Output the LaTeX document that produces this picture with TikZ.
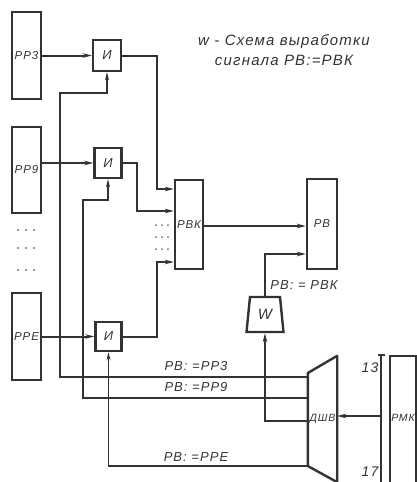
\documentclass[tikz,border=0pt]{standalone}
\usepackage{fontspec}
\setmainfont{Liberation Sans}[LetterSpace=8]
\usetikzlibrary{shapes.geometric,arrows.meta,calc}
\definecolor{ink}{gray}{0.2}
\begin{document}
\begin{tikzpicture}[x=1pt,y=-1pt,
  box/.style={draw=ink, line width=2.4pt, inner sep=0pt, font=\itshape\fontsize{11.5}{11.5}\selectfont, text=ink},
  con/.style={draw=ink, line width=2pt},
  thinl/.style={draw=ink, line width=1.5pt},
  arr/.style={-{Stealth[length=9pt,width=4.5pt]}},
  sarr/.style={-{Stealth[length=8pt,width=4pt]}},
  lab/.style={font=\itshape\fontsize{13}{13}\selectfont, text=ink, inner sep=0pt},
]
\useasboundingbox (0,0) rectangle (417,482);
\clip (0,0) rectangle (417,482);

% registers
\node[box, minimum width=29pt, minimum height=87pt] (pp3) at (26.5,55.5) {РР3};
\node[box, minimum width=29pt, minimum height=86pt] (pp9) at (26.5,170) {РР9};
\node[box, minimum width=29pt, minimum height=87pt] (ppe) at (26.5,336.5) {РРЕ};
% AND gates
\node[box, minimum width=28pt, minimum height=31pt, font=\itshape\fontsize{13}{13}\selectfont] (i1) at (107,55.5) {И};
\node[box, minimum width=27pt, minimum height=30pt, font=\itshape\fontsize{13}{13}\selectfont] (i2) at (108,163) {И};
\node[box, minimum width=26pt, minimum height=29pt, font=\itshape\fontsize{13}{13}\selectfont] (i3) at (108.5,336.5) {И};
% РВК, РВ
\node[box, minimum width=28pt, minimum height=89pt] (rvk) at (189,224.5) {РВК};
\node[box, minimum width=30pt, minimum height=90pt] (rv) at (322,224) {РВ};
% W
\node[trapezium, trapezium left angle=81, trapezium right angle=81, trapezium stretches=true,
      minimum width=37pt, minimum height=35pt, draw=ink, line width=2.4pt, inner sep=0pt,
      font=\itshape\fontsize{15}{15}\selectfont, text=ink] (w) at (265,314.5) {W};
% ДШВ
\node[minimum width=29pt, minimum height=126pt, inner sep=0pt, font=\itshape\fontsize{10.5}{10.5}\selectfont, text=ink] (dsv) at (322.5,419) {ДШВ};
\draw[ink, line width=2.4pt, line join=round] (dsv.north east) -- (dsv.south east) -- ($(dsv.west)+(0,47)$) -- ($(dsv.west)+(0,-46)$) -- cycle;
% РМК
\node[box, minimum width=26pt, minimum height=154pt] (rmk) at (403,433) {};
\node[lab, font=\itshape\fontsize{10.5}{10.5}\selectfont] (rmkl) at (403,418) {РМК};
% scale
\coordinate (st) at (381,355);
\coordinate (sb) at (381,490);
\coordinate (sa) at (381,416);
\draw[thinl] (st) -- (sb);
\draw[thinl] ($(st)+(-3.5,0)$) -- ($(st)+(3.5,0)$);
\node[lab, font=\itshape\fontsize{14}{14}\selectfont] (n13) at (370,368) {13};
\node[lab, font=\itshape\fontsize{14}{14}\selectfont] (n17) at (370,472) {17};

% dots
\foreach \y in {230,248,270} \foreach \x in {18,26,34} \fill[ink!70] (\x,\y) circle (1.1pt);
\foreach \y in {225,237,249} \foreach \x in {156,162,168} \fill[ink!70] (\x,\y) circle (1pt);

% connectors
\draw[con,arr] (pp3.east) -- (i1.west);
\draw[con,arr] (pp9.east |- i2.west) -- (i2.west);
\draw[con,arr] (ppe.east) -- (i3.west);
\draw[con,arr] (i1.east) -| (157,189) -- (rvk.west |- 0,189);
\draw[con,arr] (i2.east) -| (137,211) -- (rvk.west |- 0,211);
\draw[con,arr] (i3.east) -| (157,262) -- (rvk.west |- 0,262);
\draw[con,arr] (rvk.east |- 0,226) -- (rv.west |- 0,226);
\draw[con,arr] (w.north) |- (rv.west |- 0,254);
\draw[con,arr] (dsv.west |- 0,421) -| (w.south);
\draw[con,arr] (sa) -- (dsv.east |- sa);
\draw[thinl,sarr] (dsv.west |- 0,377) -| (60,93) -| (i1.south);
\draw[thinl,sarr] (dsv.west |- 0,398) -| (83,200) -| (i2.south);
\draw[thinl,sarr] (dsv.west |- 0,466) -| (i3.south);

% labels
\node[lab] (l3) at (196,366) {РВ: =РР3};
\node[lab] (l9) at (196,387) {РВ: =РР9};
\node[lab] (le) at (196,457) {РВ: =РРЕ};
\node[lab] (lw) at (304,285) {РВ: = РВК};
\node[lab, font=\itshape\fontsize{15}{20}\selectfont, align=center] (title) at (284,50) {w - Схема выработки\\сигнала РВ:=РВК};
\end{tikzpicture}
\end{document}
